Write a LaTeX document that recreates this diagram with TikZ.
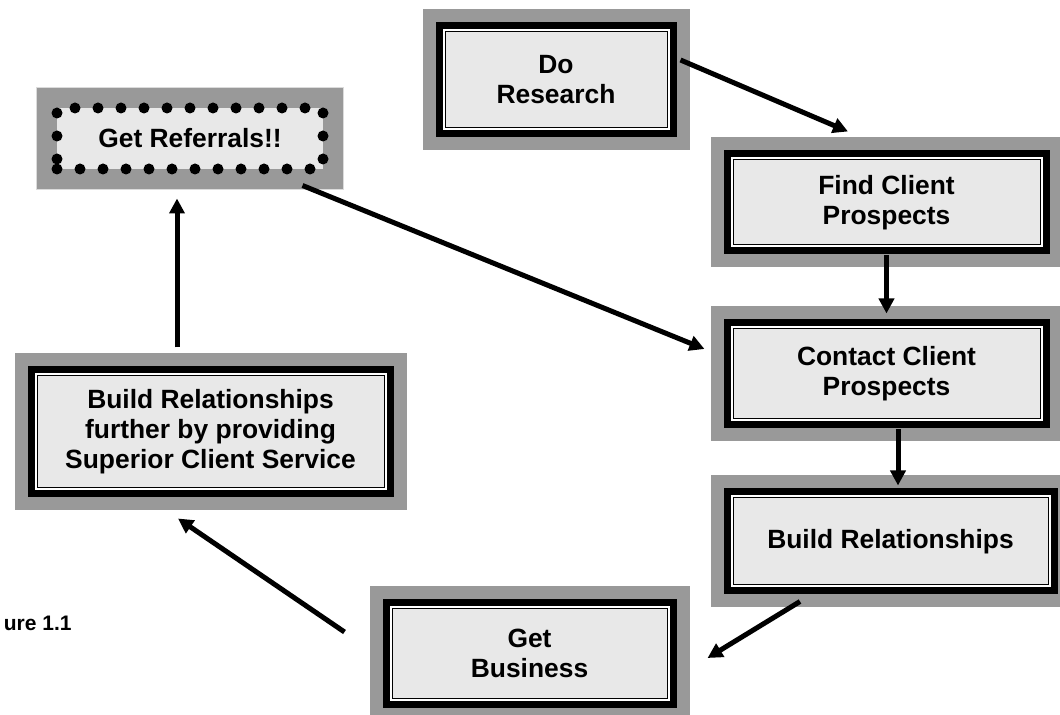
\documentclass[tikz,border=0pt]{standalone}
\usepackage{fontspec}
\setmainfont{Liberation Sans}
\usepackage{tikz}
\usetikzlibrary{positioning,arrows.meta}

\definecolor{shade}{RGB}{153,153,153}
\definecolor{boxfill}{RGB}{232,232,232}

\tikzset{
  stepbox/.style={draw=black, line width=0.5pt, fill=boxfill, align=center, inner sep=0pt,
    font=\fontsize{13.2}{15}\selectfont\bfseries,
    preaction={draw=shade, solid, line width=22.5pt},
    preaction={draw=black, solid, line width=9.5pt},
    preaction={draw=white, solid, line width=2.5pt}},
  dotbox/.style={draw=black, line width=5.5pt, fill=boxfill, align=center, inner sep=0pt,
    line cap=round, dash pattern=on 0pt off 11.5pt,
    font=\fontsize{13.2}{15}\selectfont\bfseries,
    preaction={draw=shade!35, solid, line cap=butt, line width=21pt},
    preaction={draw=shade, solid, line cap=butt, line width=20pt}},
  link/.style={line width=2.5pt, -{Triangle[length=7.5pt,width=7.5pt]}}
}

\begin{document}
\begin{tikzpicture}[x=0.5pt, y=-0.5pt]
        \useasboundingbox (0,0) rectangle (1060,715);
        \clip (0,0) rectangle (1060,715);
        \node (dr) [stepbox, minimum width=111pt, minimum height=48pt] at (556,80) {Do\\Research};
        \node (fcp) [stepbox, minimum width=153.5pt, minimum height=42.5pt] at (886.5,202.5) {Find Client\\Prospects};
        \node (ccp) [stepbox, minimum width=153.5pt, minimum height=45pt, below=41.5pt of fcp] {Contact Client\\Prospects};
        \node (br) [stepbox, minimum width=157.5pt, minimum height=43.5pt, below=39pt of ccp, xshift=2pt] {Build Relationships};
        \node (gb) [stepbox, minimum width=137.5pt, minimum height=44.5pt] at (529.5,653.5) {Get\\Business};
        \node (brf) [stepbox, minimum width=173.5pt, minimum height=56pt] at (210.5,432) {Build Relationships\\further by providing\\Superior Client Service};
        \node (gr) [dotbox, minimum width=133pt, minimum height=30.5pt] at (190,138.5) {Get Referrals!!};
        \node (fig) [anchor=base east, inner sep=0pt, font=\fontsize{10.5}{12}\selectfont\bfseries] at (72,631) {ure 1.1};
        \draw[link] ([shift={(13,-20)}]dr.east) -- ([shift={(-38.5,-28)}]fcp.north);
        \draw[link] ([shift={(0,10)}]fcp.south) -- ([shift={(0,-15)}]ccp.north);
        \draw[link] ([shift={(11.5,10)}]ccp.south) -- ([shift={(7.5,-12)}]br.north);
        \draw[link] ([shift={(-90.5,16)}]br.south) -- ([shift={(40,4.5)}]gb.east);
        \draw[link] ([shift={(-47,-21.5)}]gb.west) -- ([shift={(-32.5,30)}]brf.south);
        \draw[link] ([shift={(-33.5,-28)}]brf.north) -- ([shift={(-13,24)}]gr.south);
        \draw[link] ([shift={(-26,11)}]gr.south east) -- ([shift={(-28,-25)}]ccp.west);
    \end{tikzpicture}
\end{document}
